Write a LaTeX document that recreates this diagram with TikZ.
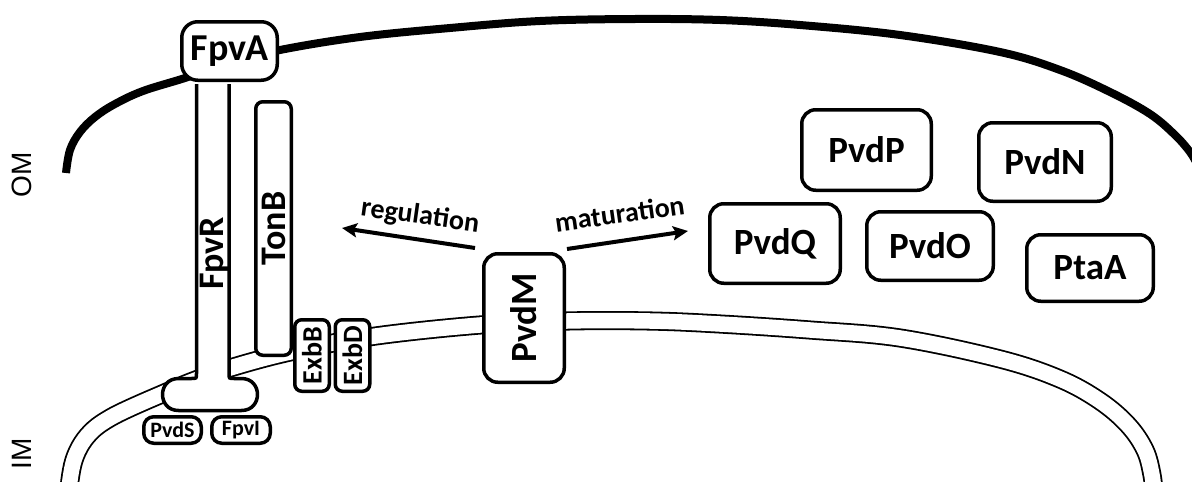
\documentclass[tikz,border=0pt]{standalone}
\usepackage{fontspec}
\setmainfont{Carlito}
\newfontfamily\labelsans{Liberation Sans}
\usetikzlibrary{arrows.meta}
\newcommand\fsz[1]{\fontsize{#1}{#1}\selectfont}

\begin{document}
\begin{tikzpicture}[x=1pt,y=-1pt,
  prot/.style={draw, line width=3.5pt, fill=white, inner sep=0pt, font=\bfseries\fsz{37}},
  bigbox/.style={prot, rounded corners=14pt},
  rodbox/.style={prot, rounded corners=7pt},
  tagbox/.style={prot, rounded corners=10pt, font=\bfseries\fsz{22}},
  arrowline/.style={line width=4pt, -{Stealth[length=15pt,width=14pt,inset=3pt]}},
  steplabel/.style={inner sep=0pt, font=\bfseries\fsz{28}},
  memlabel/.style={inner sep=0pt, font=\labelsans\fsz{28}, rotate=90},
  outermem/.style={line width=8pt},
  innermem/.style={line width=1.8pt, double=white, double distance=15.5pt}
]
\useasboundingbox (0,0) rectangle (1192,482);

% inner membrane (two parallel lines)
\draw[innermem] plot[smooth, tension=0.6] coordinates {
  (69,495) (70,480) (74,460) (82,443) (94,429) (110,418) (130,408)
  (162,394) (193,381) (230,368) (290,352) (372,336.5) (480,325)
  (567,321) (650,321) (720,324) (810,330) (900,338) (1000,359)
  (1060,379) (1100,401) (1128,425) (1145,450) (1152,475) (1154,495)};

% outer membrane
\draw[outermem] plot[smooth, tension=0.6] coordinates {
  (66,173) (70,150) (80,132) (95,117) (115,104) (143,91) (185,78)
  (230,63) (280,50) (360,37) (450,28) (540,21) (635,19) (720,20)
  (800,25) (900,35) (1000,52) (1060,70) (1110,92) (1150,114)
  (1175,135) (1190,152) (1197,164)};

% membrane labels
\node[memlabel] (om) at (22,174.5) {OM};
\node[memlabel, anchor=east] (im) at (22,438) {IM};

% FpvR: stem with a rounded foot in the inner membrane
\draw[line width=3.5pt, fill=white]
  (196.5,84) -- (196.5,373.5) .. controls (196.5,378.5) .. (191.5,378.5)
  -- (178.5,378.5) .. controls (157.2,378.5) and (157.2,410.5) .. (178.5,410.5)
  -- (241.5,410.5) .. controls (262.8,410.5) and (262.8,378.5) .. (241.5,378.5)
  -- (234,378.5) .. controls (229,378.5) .. (229,373.5) -- (229,84);
\node[inner sep=0pt, font=\bfseries\fsz{36}, rotate=90, anchor=base] (fpvr) at (223.5,253.5) {FpvR};

% outer membrane receptor
\node[prot, rounded corners=16pt, minimum width=95.5pt, minimum height=58.5pt, font=\bfseries\fsz{38}] (fpva) at (229.5,51) {FpvA};

% TonB / ExbB / ExbD
\node[rodbox, rotate=90, minimum width=253.5pt, minimum height=35.5pt, font=\bfseries\fsz{36}] (tonb) at (273.5,228.5) {TonB};
\node[rodbox, rotate=90, minimum width=71.5pt, minimum height=34.5pt, font=\bfseries\fsz{28}] (exbb) at (312,355.5) {ExbB};
\node[rodbox, rotate=90, minimum width=71.5pt, minimum height=34.5pt, font=\bfseries\fsz{28}] (exbd) at (352.5,355.5) {ExbD};

% cytoplasmic partners
\node[tagbox, minimum width=57.5pt, minimum height=26.5pt] (pvds) at (172.5,430) {PvdS};
\node[tagbox, minimum width=58.5pt, minimum height=26.5pt] (fpvi) at (241,430) {FpvI};

% PvdM in the inner membrane
\node[bigbox, rotate=90, minimum width=128.5pt, minimum height=80.5pt] (pvdm) at (524,318) {PvdM};

% arrows out of PvdM
\coordinate (regfrom) at (475,248);
\coordinate (regto) at (342,228);
\coordinate (matfrom) at (567,249);
\coordinate (matto) at (688,231);
\draw[arrowline] (regfrom) -- (regto);
\draw[arrowline] (matfrom) -- (matto);
\node[steplabel, rotate=-8, anchor=base] (reg) at (419,224) {regulation};
\node[steplabel, rotate=8, anchor=base] (mat) at (621,223) {maturation};

% periplasmic maturation enzymes
\node[bigbox, minimum width=129.5pt, minimum height=80.5pt] (pvdp) at (866.5,150) {PvdP};
\node[bigbox, minimum width=132.5pt, minimum height=78.5pt] (pvdn) at (1045,162) {PvdN};
\node[bigbox, minimum width=130.5pt, minimum height=79.5pt] (pvdq) at (775,243.5) {PvdQ};
\node[bigbox, minimum width=126.5pt, minimum height=68.5pt] (pvdo) at (930,246) {PvdO};
\node[bigbox, minimum width=126.5pt, minimum height=66.5pt] (ptaa) at (1090,268) {PtaA};
\end{tikzpicture}
\end{document}
